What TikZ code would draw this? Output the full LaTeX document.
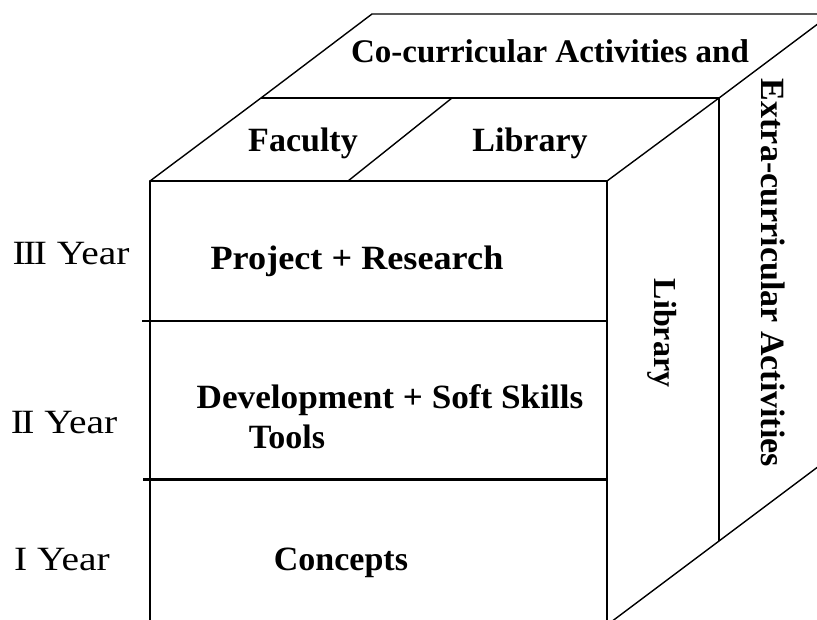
\documentclass[tikz,border=0pt]{standalone}
\usepackage{fontspec}
\setmainfont{Liberation Serif}
\newfontfamily\yearfont[FakeStretch=1.16]{Liberation Serif}
\tikzset{
  edge/.style={line width=1.4pt, line join=round},
  thickedge/.style={line width=3pt},
  lbl/.style={font=\bfseries\fontsize{34}{38}\selectfont, inner sep=0pt, anchor=base},
  longlbl/.style={font=\bfseries\fontsize{33}{36}\selectfont, inner sep=0pt},
  sidelbl/.style={font=\bfseries\fontsize{34}{38}\selectfont, inner sep=0pt, rotate=-90},
  yearlbl/.style={font=\yearfont\fontsize{34}{38}\selectfont, inner sep=0pt, anchor=base},
}
\begin{document}
\begin{tikzpicture}[x=1pt,y=-1pt]
\useasboundingbox (0,0) rectangle (817,620);
\clip (0,0) rectangle (817,620);
% corners
\coordinate (ftl) at (150,181);
\coordinate (ftr) at (607,181);
\coordinate (fbl) at (150,625);
\coordinate (fbr) at (607,625);
\coordinate (mtl) at (261,98);
\coordinate (mtr) at (719,98);
\coordinate (mbr) at (719,541);
\coordinate (btl) at (372,14);
\coordinate (btr) at (831,14);
\coordinate (bbr) at (831,457);
\coordinate (dv1) at (348,181);
\coordinate (dv2) at (452,98);
\coordinate (h1l) at (142,321);
\coordinate (h1r) at (607,321);
\coordinate (h2l) at (143,479);
\coordinate (h2r) at (606,479);
% front face
\draw[edge] (fbl) -- (ftl) -- (ftr) -- (fbr);
% top faces
\draw[edge] (ftl) -- (mtl) -- (btl) -- (btr);
\draw[edge] (mtl) -- (mtr);
\draw[edge] (ftr) -- (mtr) -- (btr);
\draw[edge] (dv1) -- (dv2);
% side faces
\draw[edge] (mtr) -- (mbr);
\draw[edge] (fbr) -- (mbr) -- (bbr) -- (btr);
% year dividers
\draw[edge] (h1l) -- (h1r);
\draw[thickedge] (h2l) -- (h2r);
% labels
\node[longlbl, anchor=base] (cocur) at (550,63) {Co-curricular Activities and};
\node[lbl] (fac) at (303,152) {Faculty};
\node[lbl] (libtop) at (530,152) {Library};
\node[lbl, xscale=1.065] (proj) at (357,270) {Project + Research};
\node[lbl, xscale=1.035] (dev) at (390,408) {Development + Soft Skills};
\node[lbl] (tools) at (287,448) {Tools};
\node[lbl] (conc) at (341,570) {Concepts};
\node[sidelbl, font=\bfseries\fontsize{32}{36}\selectfont] (libside) at (662,333) {Library};
\node[sidelbl] (extra) at (773,273) {Extra-curricular Activities};
\node[yearlbl] (y3) at (71,265) {I\kern-2.5pt I\kern-2.5pt I Year};
\node[yearlbl] (y2) at (64,433) {I\kern-2.5pt I Year};
\node[yearlbl] (y1) at (62,570) {I Year};
\end{tikzpicture}
\end{document}
